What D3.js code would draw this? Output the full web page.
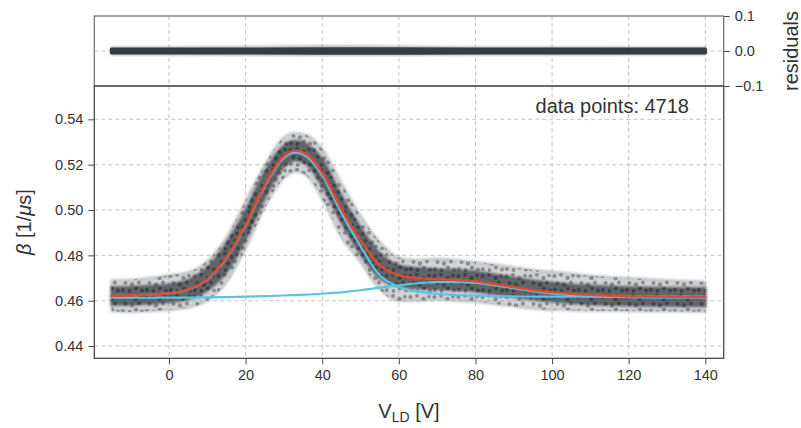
<!DOCTYPE html>
<html>
<head>
<meta charset="utf-8">
<script src="https://cdn.jsdelivr.net/npm/d3@7/dist/d3.min.js"></script>
<style>
    body { margin: 0; background: #ffffff; }
    svg { display: block; font-family: "Liberation Sans", Arial, sans-serif; }
</style>
</head>
<body>
<div id="chart"></div>
<script>
const voltages = [-15, -10, -5, 0, 5, 10, 15, 20, 25, 30, 33, 36, 40, 45, 50, 55, 60, 65, 70, 75, 80, 85, 90, 95, 100, 105, 110, 120, 130, 140];

// total fit (red)
const fitTotal = [0.4621, 0.4623, 0.4627, 0.4633, 0.4650, 0.4695, 0.4790, 0.4935, 0.5110, 0.5238, 0.5262, 0.5245, 0.5165, 0.5005, 0.4865, 0.4758, 0.4712, 0.4700, 0.4695, 0.4691, 0.4686, 0.4673, 0.4660, 0.4647, 0.4638, 0.4631, 0.4626, 0.4620, 0.4617, 0.4616];
// the two components (blue)
const fitPeak = [0.4621, 0.4623, 0.4627, 0.4632, 0.4649, 0.4693, 0.4787, 0.4931, 0.5104, 0.5230, 0.5253, 0.5235, 0.5152, 0.4988, 0.4840, 0.4712, 0.4662, 0.4640, 0.4630, 0.4625, 0.4622, 0.4620, 0.4619, 0.4618, 0.4618, 0.4618, 0.4618, 0.4618, 0.4618, 0.4618];
const fitBump = [0.4613, 0.4613, 0.4613, 0.4614, 0.4614, 0.4615, 0.4616, 0.4618, 0.4620, 0.4623, 0.4625, 0.4627, 0.4631, 0.4637, 0.4646, 0.4658, 0.4668, 0.4677, 0.4682, 0.4682, 0.4678, 0.4668, 0.4655, 0.4642, 0.4632, 0.4625, 0.4620, 0.4616, 0.4614, 0.4614];

// measured points: outer spread and dense core of the cloud
const cloudHigh = [0.4690, 0.4692, 0.4700, 0.4712, 0.4725, 0.4775, 0.4880, 0.5040, 0.5200, 0.5320, 0.5340, 0.5330, 0.5270, 0.5120, 0.4975, 0.4860, 0.4790, 0.4780, 0.4785, 0.4780, 0.4770, 0.4760, 0.4748, 0.4735, 0.4728, 0.4720, 0.4710, 0.4700, 0.4690, 0.4684];
const cloudLow = [0.4555, 0.4550, 0.4555, 0.4560, 0.4570, 0.4600, 0.4680, 0.4830, 0.5010, 0.5140, 0.5170, 0.5150, 0.5050, 0.4880, 0.4770, 0.4650, 0.4600, 0.4600, 0.4605, 0.4600, 0.4595, 0.4585, 0.4575, 0.4565, 0.4560, 0.4558, 0.4556, 0.4555, 0.4553, 0.4552];
const coreHigh = [0.4660, 0.4662, 0.4666, 0.4672, 0.4692, 0.4748, 0.4855, 0.5000, 0.5170, 0.5285, 0.5305, 0.5290, 0.5225, 0.5065, 0.4925, 0.4810, 0.4756, 0.4744, 0.4739, 0.4735, 0.4729, 0.4716, 0.4702, 0.4689, 0.4680, 0.4672, 0.4667, 0.4660, 0.4657, 0.4656];
const coreLow = [0.4582, 0.4583, 0.4587, 0.4593, 0.4607, 0.4645, 0.4725, 0.4870, 0.5050, 0.5190, 0.5218, 0.5200, 0.5105, 0.4945, 0.4805, 0.4700, 0.4664, 0.4654, 0.4651, 0.4647, 0.4641, 0.4629, 0.4617, 0.4605, 0.4596, 0.4589, 0.4584, 0.4579, 0.4577, 0.4576];

// residuals band
const residVoltages = [-15, 0, 20, 40, 60, 80, 100, 120, 140];
const residHigh = [0.011, 0.011, 0.012, 0.015, 0.013, 0.011, 0.011, 0.010, 0.010];
const residLow = [-0.011, -0.011, -0.012, -0.013, -0.012, -0.011, -0.011, -0.010, -0.010];
const residCoreHigh = [0.005, 0.005, 0.005, 0.006, 0.006, 0.005, 0.005, 0.005, 0.005];
const residCoreLow = [-0.005, -0.005, -0.005, -0.006, -0.006, -0.005, -0.005, -0.005, -0.005];

const xTicks = [0, 20, 40, 60, 80, 100, 120, 140];
const yTicks = [0.44, 0.46, 0.48, 0.50, 0.52, 0.54];
const residTicks = [-0.1, 0.0, 0.1];
const pointCount = 4718;

const width = 801, height = 428;
const left = 94.3, right = 723.7;
const residTop = 16, mainTop = 86, mainBottom = 358.3;

const svg = d3.select('#chart').append('svg')
    .attr('width', width)
    .attr('height', height);

const x = d3.scaleLinear().domain([-19.5, 144.8]).range([left, right]);
const y = d3.scaleLinear().domain([0.4346, 0.5547]).range([mainBottom, mainTop]);
const yr = d3.scaleLinear().domain([-0.1, 0.1]).range([mainTop, residTop]);

const gridColor = '#c4c4c4';
const spineColor = '#4a4a4a';
const textColor = '#333333';

// texture for the point cloud (irregular dots in a tile)
const defs = svg.append('defs');
function speckle(id, color, op) {
    const spots = [[2.5, 3, 2.1], [9, 1.8, 2], [15.5, 5, 2.2], [21, 2.6, 1.9], [5.5, 10, 2], [12, 11.5, 2.2],
                   [19, 9.5, 2], [2.8, 17, 2.1], [9.5, 18, 1.9], [16, 15.5, 2.1], [22, 17.5, 2]];
    const p = defs.append('pattern')
        .attr('id', id)
        .attr('patternUnits', 'userSpaceOnUse')
        .attr('width', 24)
        .attr('height', 21);
    spots.forEach(s => {
        p.append('circle').attr('cx', s[0]).attr('cy', s[1]).attr('r', s[2])
            .attr('fill', color).attr('fill-opacity', op);
    });
}
speckle('speckle-light', '#383d42', 0.45);
speckle('speckle-dark', '#2b2f33', 0.5);

defs.append('filter').attr('id', 'soft')
    .append('feGaussianBlur').attr('stdDeviation', 1.2);

defs.append('clipPath').attr('id', 'clip-main')
    .append('rect').attr('x', left).attr('y', mainTop).attr('width', right - left).attr('height', mainBottom - mainTop);

// grid lines
function drawGrid() {
    const g = svg.append('g')
        .attr('stroke', gridColor)
        .attr('stroke-width', 1)
        .attr('stroke-dasharray', '4,3');
    g.selectAll('.vx').data(xTicks).enter().append('line')
        .attr('x1', d => x(d)).attr('x2', d => x(d))
        .attr('y1', residTop).attr('y2', mainBottom);
    g.selectAll('.hy').data(yTicks).enter().append('line')
        .attr('x1', left).attr('x2', right)
        .attr('y1', d => y(d)).attr('y2', d => y(d));
    g.append('line')
        .attr('x1', left).attr('x2', right)
        .attr('y1', yr(0)).attr('y2', yr(0));
}
drawGrid();

// point cloud drawn as bands
const cloud = voltages.map((v, i) => ({ v: v, hi: cloudHigh[i], lo: cloudLow[i], chi: coreHigh[i], clo: coreLow[i] }));

const outerArea = d3.area().curve(d3.curveMonotoneX)
    .x(d => x(d.v)).y0(d => y(d.lo)).y1(d => y(d.hi));
const coreArea = d3.area().curve(d3.curveMonotoneX)
    .x(d => x(d.v)).y0(d => y(d.clo)).y1(d => y(d.chi));

const cloudG = svg.append('g').attr('clip-path', 'url(#clip-main)');
cloudG.append('path').datum(cloud)
    .attr('d', outerArea)
    .attr('fill', '#9a9ea1')
    .attr('fill-opacity', 0.45)
    .attr('stroke', '#9a9ea1')
    .attr('stroke-opacity', 0.4)
    .attr('stroke-width', 3)
    .attr('stroke-linejoin', 'round')
    .attr('filter', 'url(#soft)');
cloudG.append('path').datum(cloud)
    .attr('d', outerArea)
    .attr('fill', 'url(#speckle-light)');
cloudG.append('path').datum(cloud)
    .attr('d', coreArea)
    .attr('fill', '#4d5257')
    .attr('fill-opacity', 0.85)
    .attr('stroke', '#4d5257')
    .attr('stroke-opacity', 0.5)
    .attr('stroke-width', 3)
    .attr('stroke-linejoin', 'round')
    .attr('filter', 'url(#soft)');
cloudG.append('path').datum(cloud)
    .attr('d', coreArea)
    .attr('fill', 'url(#speckle-dark)');

// fit lines
function drawLine(values, color, w) {
    const line = d3.line().curve(d3.curveMonotoneX)
        .x((d, i) => x(voltages[i]))
        .y(d => y(d));
    svg.append('path').datum(values)
        .attr('d', line)
        .attr('fill', 'none')
        .attr('stroke', color)
        .attr('stroke-width', w)
        .attr('stroke-linecap', 'round');
}
drawLine(fitBump, '#5bc3e4', 2.2);
drawLine(fitPeak, '#5bc3e4', 2.2);
drawLine(fitTotal, '#e2492f', 2.4);

// residuals
const resid = residVoltages.map((v, i) => ({ v: v, hi: residHigh[i], lo: residLow[i], chi: residCoreHigh[i], clo: residCoreLow[i] }));
svg.append('path').datum(resid)
    .attr('d', d3.area().x(d => x(d.v)).y0(d => yr(d.lo)).y1(d => yr(d.hi)))
    .attr('fill', '#8e9296')
    .attr('fill-opacity', 0.45)
    .attr('stroke', '#8e9296')
    .attr('stroke-opacity', 0.45)
    .attr('stroke-width', 2)
    .attr('stroke-linejoin', 'round')
    .attr('filter', 'url(#soft)');
svg.append('path').datum(resid)
    .attr('d', d3.area().x(d => x(d.v)).y0(d => yr(d.clo)).y1(d => yr(d.chi)))
    .attr('fill', '#373c41')
    .attr('stroke', '#373c41')
    .attr('stroke-width', 3.5)
    .attr('stroke-linejoin', 'round');

// axes
const xAxis = svg.append('g')
    .attr('transform', 'translate(0,' + mainBottom + ')')
    .call(d3.axisBottom(x).tickValues(xTicks).tickSize(6).tickPadding(5).tickFormat(d3.format('d')));
const yAxis = svg.append('g')
    .attr('transform', 'translate(' + left + ',0)')
    .call(d3.axisLeft(y).tickValues(yTicks).tickSize(6).tickPadding(5).tickFormat(d3.format('.2f')));
const rAxis = svg.append('g')
    .attr('transform', 'translate(' + right + ',0)')
    .call(d3.axisRight(yr).tickValues(residTicks).tickSize(6).tickPadding(5).tickFormat(d3.format('.1f')));

[xAxis, yAxis, rAxis].forEach(a => {
    a.select('.domain').remove();
    a.selectAll('.tick line').attr('stroke', spineColor).attr('stroke-width', 1);
    a.selectAll('.tick text').attr('fill', textColor).style('font-size', '14.5px');
});

// frames of both panels
svg.append('rect')
    .attr('x', left).attr('y', residTop)
    .attr('width', right - left).attr('height', mainTop - residTop)
    .attr('fill', 'none').attr('stroke', '#6a6a6a').attr('stroke-width', 1.2);
svg.append('rect')
    .attr('x', left).attr('y', mainTop)
    .attr('width', right - left).attr('height', mainBottom - mainTop)
    .attr('fill', 'none').attr('stroke', spineColor).attr('stroke-width', 1.3);

// labels
svg.append('text')
    .attr('x', 689).attr('y', 113)
    .attr('text-anchor', 'end')
    .attr('fill', textColor)
    .style('font-size', '20px')
    .text('data points: ' + pointCount);

const xl = svg.append('text')
    .attr('x', (left + right) / 2).attr('y', 418)
    .attr('text-anchor', 'middle')
    .attr('fill', textColor)
    .style('font-size', '20px');
xl.append('tspan').text('V');
xl.append('tspan').attr('dy', 4).style('font-size', '14px').text('LD');
xl.append('tspan').attr('dy', -4).text(' [V]');

const yl = svg.append('text')
    .attr('transform', 'translate(31,' + ((mainTop + mainBottom) / 2) + ') rotate(-90)')
    .attr('text-anchor', 'middle')
    .attr('fill', textColor)
    .style('font-size', '20px');
yl.append('tspan').style('font-style', 'italic').text('β');
yl.append('tspan').text(' [1/');
yl.append('tspan').style('font-style', 'italic').text('μ');
yl.append('tspan').text('s]');

svg.append('text')
    .attr('transform', 'translate(798,' + ((residTop + mainTop) / 2) + ') rotate(-90)')
    .attr('text-anchor', 'middle')
    .attr('fill', textColor)
    .style('font-size', '20px')
    .text('residuals');
</script>
</body>
</html>
